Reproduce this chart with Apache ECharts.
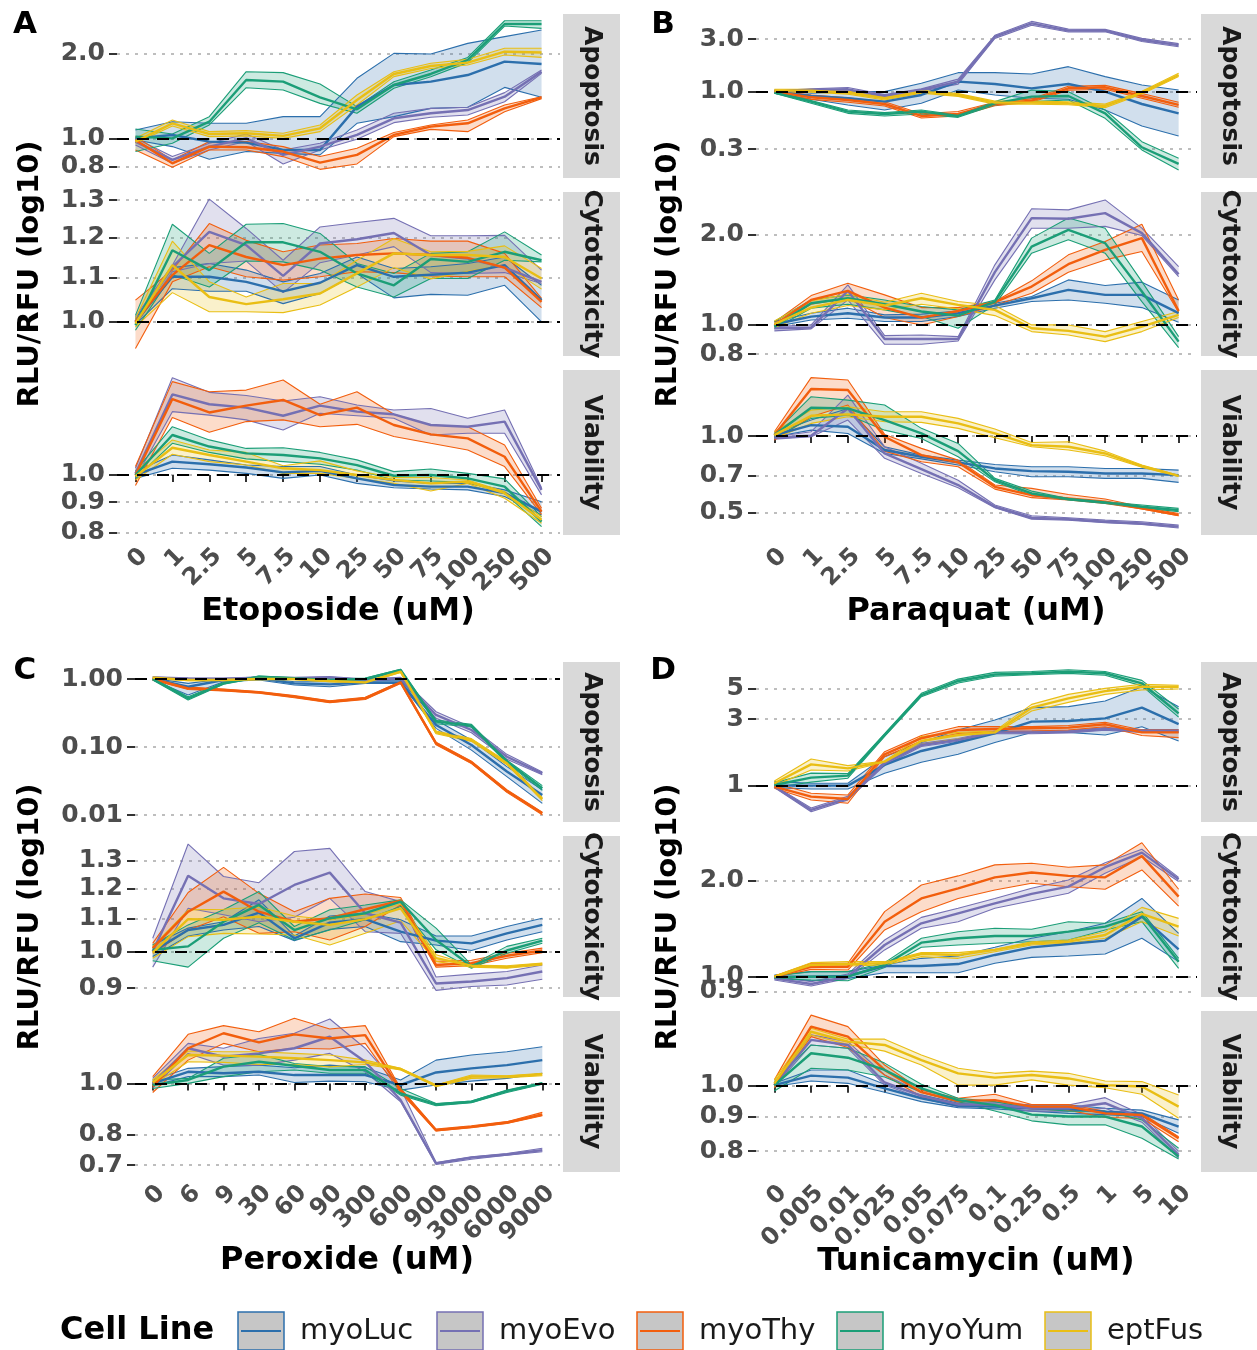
<!DOCTYPE html>
<html><head><meta charset="utf-8">
<script src="https://cdn.jsdelivr.net/npm/echarts@6/dist/echarts.min.js"></script>
<style>html,body{margin:0;padding:0;background:#fff}#c{width:1257px;height:1350px}</style>
</head><body><div id="c"></div>
<script>
// ---------- categories / labels ----------
const cellLines = ['myoLuc', 'myoEvo', 'myoThy', 'myoYum', 'eptFus'];
const lineColors = ['#2C6FAC', '#7570B3', '#F25E0D', '#1B9E77', '#E9BE14'];
const assays = ['Apoptosis', 'Cytotoxicity', 'Viability'];
const xEtoposide = ['0', '1', '2.5', '5', '7.5', '10', '25', '50', '75', '100', '250', '500'];
const xParaquat = ['0', '1', '2.5', '5', '7.5', '10', '25', '50', '75', '100', '250', '500'];
const xPeroxide = ['0', '6', '9', '30', '60', '90', '300', '600', '900', '3000', '6000', '9000'];
const xTunicamycin = ['0', '0.005', '0.01', '0.025', '0.05', '0.075', '0.1', '0.25', '0.5', '1', '5', '10'];

const yTicksA_apo = ['0.8', '1.0', '2.0'];
const yTicksA_cyto = ['1.0', '1.1', '1.2', '1.3'];
const yTicksA_via = ['0.8', '0.9', '1.0'];
const yTicksB_apo = ['0.3', '1.0', '3.0'];
const yTicksB_cyto = ['0.8', '1.0', '2.0'];
const yTicksB_via = ['0.5', '0.7', '1.0'];
const yTicksC_apo = ['0.01', '0.10', '1.00'];
const yTicksC_cyto = ['0.9', '1.0', '1.1', '1.2', '1.3'];
const yTicksC_via = ['0.7', '0.8', '1.0'];
const yTicksD_apo = ['1', '3', '5'];
const yTicksD_cyto = ['0.9', '1.0', '2.0'];
const yTicksD_via = ['0.8', '0.9', '1.0'];

// ---------- data (RLU/RFU ratio: mean, ribbon low, ribbon high) ----------
// A: Etoposide
const A_apo_myoLuc = { mean: [1.005,1.033,0.979,0.971,0.915,0.915,1.299,1.548,1.590,1.678,1.870,1.835], lo: [0.992,0.940,0.848,0.903,0.890,0.879,1.135,1.198,1.281,1.292,1.518,1.401], hi: [1.075,1.150,1.135,1.135,1.198,1.198,1.634,2.0,1.99,2.168,2.29,2.415] };
const A_apo_myoEvo = { mean: [0.979,0.844,0.940,1.005,0.879,0.940,1.033,1.182,1.231,1.264,1.408,1.724], lo: [0.953,0.821,0.915,0.979,0.817,0.915,0.997,1.141,1.192,1.214,1.352,1.701], hi: [1.005,0.867,0.966,1.041,0.915,0.966,1.075,1.231,1.281,1.292,1.455,1.748] };
const A_apo_myoThy = { mean: [0.992,0.821,0.940,0.935,0.903,0.826,0.879,1.033,1.105,1.135,1.281,1.401], lo: [0.915,0.795,0.915,0.915,0.867,0.782,0.817,1.019,1.081,1.061,1.247,1.386], hi: [1.019,0.844,0.979,0.979,0.940,0.867,0.927,1.053,1.120,1.166,1.316,1.408] };
const A_apo_myoYum = { mean: [1.019,1.005,1.150,1.612,1.590,1.401,1.271,1.548,1.692,1.895,2.536,2.536], lo: [0.903,0.966,1.120,1.514,1.486,1.334,1.231,1.507,1.656,1.855,2.495,2.448], hi: [1.084,1.041,1.198,1.724,1.711,1.561,1.299,1.590,1.748,1.935,2.604,2.604] };
const A_apo_eptFus = { mean: [0.979,1.135,1.041,1.047,1.025,1.090,1.371,1.692,1.805,1.855,2.027,2.013], lo: [0.966,1.111,1.019,1.025,1.005,1.061,1.316,1.656,1.770,1.820,1.973,1.935], hi: [1.005,1.166,1.061,1.070,1.047,1.120,1.427,1.724,1.845,1.905,2.083,2.083] };

const A_cyto_myoLuc = { mean: [1.0,1.102,1.102,1.090,1.068,1.088,1.130,1.102,1.107,1.112,1.130,1.048], lo: [0.994,1.074,1.068,1.068,1.040,1.063,1.110,1.053,1.061,1.059,1.082,1.0], hi: [1.007,1.124,1.134,1.118,1.090,1.110,1.150,1.122,1.126,1.134,1.150,1.082] };
const A_cyto_myoEvo = { mean: [1.0,1.126,1.214,1.180,1.104,1.184,1.195,1.211,1.155,1.146,1.124,1.090], lo: [0.993,1.114,1.134,1.140,1.065,1.136,1.155,1.176,1.112,1.110,1.112,1.086], hi: [1.011,1.130,1.303,1.223,1.142,1.227,1.239,1.250,1.204,1.204,1.205,1.118] };
const A_cyto_myoThy = { mean: [1.0,1.106,1.180,1.150,1.130,1.146,1.155,1.159,1.155,1.148,1.124,1.044], lo: [0.944,1.090,1.126,1.102,1.094,1.102,1.114,1.112,1.104,1.102,1.102,1.031], hi: [1.048,1.118,1.236,1.192,1.163,1.180,1.184,1.197,1.190,1.190,1.159,1.052] };
const A_cyto_myoYum = { mean: [0.993,1.167,1.118,1.187,1.187,1.163,1.110,1.082,1.145,1.138,1.163,1.142], lo: [0.982,1.107,1.078,1.140,1.138,1.118,1.078,1.055,1.098,1.098,1.142,1.138], hi: [1.014,1.234,1.159,1.234,1.236,1.210,1.134,1.110,1.159,1.163,1.214,1.155] };
const A_cyto_eptFus = { mean: [0.996,1.130,1.055,1.039,1.050,1.063,1.110,1.159,1.155,1.155,1.150,1.098], lo: [0.989,1.065,1.022,1.022,1.020,1.037,1.078,1.124,1.097,1.115,1.130,1.073], hi: [1.007,1.190,1.090,1.055,1.086,1.086,1.142,1.197,1.163,1.164,1.178,1.122] };

const A_via_myoLuc = { mean: [1.0,1.053,1.042,1.029,1.010,1.016,0.987,0.962,0.956,0.956,0.932,0.868], lo: [0.987,1.026,1.019,1.006,0.987,1.0,0.968,0.952,0.947,0.944,0.920,0.857], hi: [1.013,1.080,1.060,1.039,1.033,1.033,1.0,0.977,0.968,0.968,0.944,0.902] };
const A_via_myoEvo = { mean: [1.006,1.365,1.314,1.297,1.257,1.307,1.277,1.264,1.213,1.205,1.229,0.944], lo: [0.987,1.277,1.260,1.237,1.190,1.269,1.257,1.245,1.167,1.175,1.175,0.926], hi: [1.026,1.456,1.376,1.359,1.331,1.353,1.310,1.285,1.293,1.245,1.285,0.952] };
const A_via_myoThy = { mean: [1.0,1.341,1.273,1.307,1.336,1.260,1.297,1.213,1.170,1.152,1.073,0.868], lo: [0.960,1.248,1.179,1.229,1.237,1.205,1.216,1.160,1.130,1.101,1.033,0.859], hi: [1.033,1.434,1.379,1.388,1.443,1.314,1.379,1.264,1.213,1.205,1.123,0.879] };
const A_via_myoYum = { mean: [1.0,1.167,1.116,1.087,1.080,1.066,1.039,0.997,1.0,0.987,0.956,0.835], lo: [0.987,1.130,1.091,1.064,1.053,1.042,1.019,0.981,0.977,0.972,0.932,0.819], hi: [1.016,1.205,1.145,1.108,1.111,1.091,1.060,1.013,1.023,1.006,0.985,0.851] };
const A_via_eptFus = { mean: [0.994,1.111,1.080,1.053,1.026,1.019,1.0,0.981,0.968,0.975,0.932,0.841], lo: [0.981,1.083,1.053,1.039,1.006,1.006,0.987,0.968,0.940,0.968,0.914,0.830], hi: [1.013,1.145,1.101,1.091,1.036,1.056,1.016,0.990,0.990,0.981,0.938,0.851] };

// B: Paraquat
const B_apo_myoLuc = { mean: [1.0,0.913,0.870,0.811,0.933,1.233,1.174,1.072,1.174,1.0,0.772,0.635], lo: [0.966,0.852,0.757,0.681,0.783,1.035,0.933,0.870,0.852,0.681,0.487,0.395], hi: [1.035,0.966,1.0,1.0,1.191,1.488,1.488,1.447,1.687,1.369,1.150,1.035] };
const B_apo_myoEvo = { mean: [1.0,1.035,1.050,0.913,1.035,1.233,3.16,4.18,3.59,3.59,2.95,2.65], lo: [0.98,1.01,1.01,0.89,1.01,1.17,3.05,4.02,3.48,3.50,2.86,2.56], hi: [1.02,1.06,1.09,0.94,1.06,1.30,3.25,4.35,3.70,3.68,3.05,2.73] };
const B_apo_myoThy = { mean: [1.0,0.888,0.840,0.772,0.601,0.627,0.772,0.828,1.072,1.095,0.913,0.757], lo: [0.97,0.85,0.80,0.74,0.575,0.60,0.745,0.80,1.03,1.05,0.87,0.72], hi: [1.03,0.93,0.88,0.81,0.63,0.66,0.80,0.86,1.12,1.14,0.96,0.80] };
const B_apo_myoYum = { mean: [0.979,0.811,0.658,0.627,0.658,0.601,0.783,0.901,0.913,0.635,0.312,0.220], lo: [0.966,0.783,0.635,0.601,0.627,0.584,0.757,0.811,0.840,0.572,0.295,0.194], hi: [1.0,0.828,0.681,0.644,0.681,0.614,0.811,1.035,1.0,0.681,0.351,0.248] };
const B_apo_eptFus = { mean: [1.021,1.021,0.979,0.870,1.0,0.933,0.794,0.794,0.783,0.741,0.979,1.417], lo: [0.99,0.99,0.95,0.84,0.97,0.905,0.77,0.77,0.76,0.715,0.95,1.37], hi: [1.05,1.05,1.01,0.90,1.03,0.96,0.82,0.82,0.81,0.77,1.01,1.47] };

const B_cyto_myoLuc = { mean: [1.005,1.066,1.094,1.058,1.058,1.094,1.160,1.227,1.308,1.259,1.259,1.094], lo: [0.987,1.039,1.052,1.026,1.026,1.066,1.137,1.196,1.211,1.181,1.142,1.021], hi: [1.026,1.094,1.137,1.080,1.086,1.113,1.181,1.243,1.412,1.352,1.388,1.211] };
const B_cyto_myoEvo = { mean: [0.975,0.980,1.298,0.898,0.898,0.898,1.498,2.268,2.256,2.356,2.021,1.475], lo: [0.955,0.970,1.211,0.862,0.862,0.884,1.412,2.099,2.099,2.128,1.984,1.449], hi: [0.987,1.0,1.359,0.921,0.926,0.914,1.585,2.436,2.415,2.607,2.099,1.564] };
const B_cyto_myoThy = { mean: [1.0,1.211,1.298,1.142,1.058,1.113,1.190,1.342,1.593,1.778,1.945,1.113], lo: [0.987,1.172,1.227,1.058,1.0,1.066,1.160,1.275,1.498,1.646,1.756,1.102], hi: [1.021,1.252,1.377,1.259,1.142,1.142,1.196,1.402,1.711,1.896,2.165,1.211] };
const B_cyto_myoYum = { mean: [0.987,1.181,1.227,1.172,1.108,1.074,1.196,1.823,2.073,1.872,1.292,0.880], lo: [0.970,1.137,1.172,1.122,1.066,0.975,1.166,1.733,1.921,1.733,1.196,0.840], hi: [1.026,1.211,1.259,1.211,1.151,1.122,1.211,1.945,2.268,2.099,1.394,0.914] };
const B_cyto_eptFus = { mean: [1.005,1.142,1.211,1.160,1.227,1.166,1.122,0.975,0.955,0.914,0.987,1.080], lo: [0.980,1.094,1.160,1.122,1.172,1.131,1.074,0.950,0.926,0.880,0.950,1.058], hi: [1.031,1.202,1.265,1.190,1.275,1.196,1.160,1.0,1.0,0.950,1.026,1.108] };

const B_via_myoLuc = { mean: [1.009,1.104,1.088,0.882,0.830,0.789,0.747,0.729,0.725,0.714,0.714,0.703], lo: [0.994,1.055,1.024,0.855,0.814,0.770,0.725,0.693,0.693,0.683,0.683,0.659], hi: [1.024,1.155,1.283,0.908,0.842,0.805,0.774,0.758,0.758,0.747,0.747,0.736] };
const B_via_myoEvo = { mean: [0.985,1.003,1.283,0.855,0.743,0.643,0.529,0.479,0.473,0.462,0.455,0.442], lo: [0.973,0.994,1.155,0.818,0.714,0.628,0.524,0.473,0.469,0.458,0.451,0.437], hi: [0.994,1.040,1.447,0.908,0.782,0.672,0.537,0.488,0.479,0.469,0.462,0.448] };
const B_via_myoThy = { mean: [1.009,1.528,1.514,0.994,0.842,0.789,0.633,0.587,0.570,0.553,0.521,0.491], lo: [0.964,1.190,1.323,0.873,0.793,0.758,0.620,0.574,0.562,0.545,0.518,0.488], hi: [1.040,1.693,1.657,1.015,0.895,0.805,0.643,0.624,0.591,0.567,0.529,0.498] };
const B_via_myoYum = { mean: [1.009,1.291,1.283,1.155,1.024,0.873,0.672,0.596,0.567,0.550,0.529,0.513], lo: [0.985,1.173,1.208,1.055,0.979,0.830,0.662,0.587,0.562,0.545,0.524,0.506], hi: [1.024,1.426,1.383,1.323,1.072,0.936,0.683,0.609,0.570,0.553,0.537,0.521] };
const B_via_eptFus = { mean: [1.009,1.201,1.216,1.190,1.190,1.121,1.024,0.922,0.908,0.855,0.763,0.699], lo: [0.979,1.121,1.190,1.138,1.131,1.072,0.985,0.908,0.882,0.838,0.756,0.695], hi: [1.040,1.264,1.303,1.245,1.245,1.173,1.065,0.944,0.950,0.873,0.770,0.703] };

// C: Peroxide
const C_apo_myoLuc = { mean: [1.0,0.771,0.967,1.023,0.863,0.835,0.893,0.893,0.211,0.107,0.0436,0.0197], lo: [0.967,0.582,0.914,0.967,0.816,0.771,0.863,0.863,0.188,0.090,0.0367,0.0148], hi: [1.023,0.863,1.0,1.046,0.914,0.914,0.935,0.967,0.250,0.127,0.0515,0.0234] };
const C_apo_myoEvo = { mean: [1.046,1.0,1.0,1.046,1.023,1.046,0.967,1.023,0.296,0.178,0.072,0.041], lo: [1.01,0.96,0.97,1.02,0.99,1.0,0.94,0.99,0.265,0.162,0.066,0.039], hi: [1.08,1.04,1.03,1.07,1.06,1.09,1.0,1.06,0.33,0.195,0.078,0.043] };
const C_apo_myoThy = { mean: [1.0,0.729,0.689,0.636,0.550,0.464,0.520,0.893,0.113,0.0595,0.0225,0.0106], lo: [0.97,0.70,0.67,0.62,0.53,0.45,0.50,0.86,0.108,0.057,0.0215,0.0101], hi: [1.03,0.76,0.71,0.655,0.57,0.48,0.54,0.92,0.118,0.062,0.0235,0.011] };
const C_apo_myoYum = { mean: [1.0,0.520,0.863,1.082,1.023,0.967,1.0,1.356,0.236,0.206,0.0609,0.0248], lo: [0.97,0.49,0.84,1.05,0.99,0.94,0.97,1.32,0.22,0.197,0.058,0.023], hi: [1.03,0.55,0.89,1.11,1.05,0.99,1.03,1.39,0.25,0.215,0.064,0.027] };
const C_apo_eptFus = { mean: [1.046,0.967,0.967,1.0,1.0,0.935,0.893,1.282,0.164,0.127,0.0577,0.0172], lo: [1.02,0.945,0.945,0.98,0.98,0.91,0.875,1.25,0.157,0.121,0.055,0.0163], hi: [1.07,0.99,0.99,1.02,1.02,0.96,0.91,1.31,0.172,0.133,0.061,0.018] };

const C_cyto_myoLuc = { mean: [1.0,1.064,1.080,1.119,1.039,1.087,1.098,1.059,1.032,1.024,1.054,1.080], lo: [0.986,1.046,1.064,1.075,1.032,1.066,1.075,1.029,1.019,1.003,1.034,1.059], hi: [1.019,1.070,1.090,1.161,1.046,1.108,1.117,1.096,1.046,1.046,1.075,1.101] };
const C_cyto_myoEvo = { mean: [1.0,1.245,1.166,1.147,1.212,1.256,1.117,1.087,0.912,0.917,0.926,0.944], lo: [0.956,1.133,1.112,1.090,1.104,1.166,1.059,1.054,0.894,0.904,0.908,0.923], hi: [1.039,1.364,1.242,1.220,1.335,1.347,1.189,1.155,0.929,0.937,0.944,0.962] };
const C_cyto_myoThy = { mean: [1.010,1.122,1.189,1.122,1.090,1.101,1.130,1.158,0.962,0.967,0.988,1.003], lo: [0.995,1.064,1.106,1.054,1.059,1.034,1.075,1.144,0.956,0.960,0.981,0.997], hi: [1.024,1.186,1.275,1.183,1.122,1.166,1.181,1.169,0.972,0.975,0.995,1.010] };
const C_cyto_myoYum = { mean: [1.005,1.015,1.090,1.144,1.064,1.101,1.117,1.155,1.034,0.958,1.003,1.032], lo: [0.974,0.956,1.039,1.087,1.034,1.064,1.096,1.139,1.005,0.953,0.995,1.024], hi: [1.019,1.080,1.128,1.189,1.075,1.128,1.144,1.161,1.070,0.962,1.015,1.039] };
const C_cyto_eptFus = { mean: [0.997,1.098,1.096,1.106,1.090,1.080,1.098,1.133,0.981,0.960,0.956,0.965], lo: [0.981,1.044,1.054,1.052,1.049,1.019,1.054,1.093,0.972,0.956,0.953,0.962], hi: [1.015,1.128,1.130,1.137,1.108,1.096,1.112,1.148,0.991,0.962,0.960,0.967] };

const C_via_myoLuc = { mean: [1.0,1.052,1.045,1.052,1.037,1.037,1.037,0.993,1.049,1.068,1.083,1.107], lo: [0.990,1.030,1.030,1.037,1.004,1.010,1.007,0.971,0.993,1.010,1.022,1.045], hi: [1.015,1.068,1.076,1.083,1.071,1.083,1.071,1.015,1.107,1.132,1.148,1.174] };
const C_via_myoEvo = { mean: [1.0,1.166,1.124,1.140,1.166,1.226,1.099,0.930,0.705,0.723,0.733,0.747], lo: [0.981,1.140,1.083,1.083,1.107,1.140,1.052,0.923,0.702,0.718,0.731,0.742], hi: [1.022,1.191,1.166,1.217,1.245,1.325,1.166,0.978,0.708,0.726,0.736,0.753] };
const C_via_myoThy = { mean: [0.986,1.166,1.245,1.196,1.239,1.217,1.235,0.971,0.815,0.827,0.843,0.873], lo: [0.961,1.107,1.191,1.148,1.166,1.162,1.191,0.961,0.812,0.824,0.839,0.868], hi: [1.030,1.239,1.287,1.253,1.329,1.268,1.287,0.978,0.819,0.831,0.846,0.881] };
const C_via_myoYum = { mean: [0.993,1.015,1.076,1.099,1.080,1.060,1.060,0.957,0.912,0.923,0.967,1.0], lo: [0.978,1.0,1.030,1.052,1.060,1.045,1.045,0.950,0.907,0.919,0.961,0.996], hi: [1.015,1.022,1.116,1.135,1.091,1.076,1.076,0.978,0.916,0.926,0.971,1.004] };
const C_via_eptFus = { mean: [1.004,1.132,1.129,1.124,1.116,1.107,1.096,1.065,0.990,1.030,1.030,1.040], lo: [0.993,1.099,1.096,1.086,1.086,1.075,1.086,1.060,0.986,1.022,1.025,1.034], hi: [1.015,1.152,1.148,1.148,1.140,1.132,1.107,1.068,0.993,1.037,1.034,1.045] };

// D: Tunicamycin
const D_apo_myoLuc = { mean: [1.0,1.0,1.0,1.407,1.773,2.04,2.37,2.88,2.91,3.04,3.63,2.76], lo: [0.967,0.946,0.946,1.226,1.470,1.679,2.04,2.41,2.41,2.31,2.65,2.09], hi: [1.068,1.039,1.039,1.615,2.04,2.51,2.96,3.63,3.69,4.05,5.13,3.69] };
const D_apo_myoEvo = { mean: [0.984,0.669,0.811,1.446,1.958,2.13,2.41,2.41,2.44,2.55,2.47,2.47], lo: [0.97,0.65,0.79,1.40,1.91,2.08,2.36,2.36,2.39,2.50,2.41,2.41], hi: [1.0,0.69,0.84,1.49,2.01,2.18,2.47,2.46,2.49,2.61,2.53,2.53] };
const D_apo_myoThy = { mean: [0.984,0.834,0.802,1.678,2.19,2.51,2.55,2.58,2.61,2.76,2.41,2.41], lo: [0.957,0.789,0.747,1.615,2.09,2.37,2.44,2.47,2.51,2.65,2.29,2.21], hi: [1.039,0.881,0.857,1.753,2.29,2.65,2.65,2.65,2.70,2.85,2.51,2.51] };
const D_apo_myoYum = { mean: [1.011,1.141,1.180,2.31,4.47,5.64,6.28,6.41,6.58,6.41,5.43,3.30], lo: [0.97,1.06,1.13,2.26,4.35,5.45,6.1,6.25,6.4,6.2,5.2,3.1], hi: [1.05,1.23,1.22,2.36,4.6,5.82,6.5,6.6,6.8,6.6,5.7,3.55] };
const D_apo_eptFus = { mean: [1.039,1.422,1.331,1.487,2.09,2.31,2.41,3.63,4.23,4.77,5.13,5.13], lo: [1.0,1.296,1.274,1.470,1.98,2.16,2.36,3.43,3.96,4.52,4.86,4.94], hi: [1.080,1.553,1.392,1.503,2.25,2.41,2.47,3.83,4.52,4.99,5.34,5.26] };

const D_cyto_myoLuc = { mean: [1.0,1.0,1.005,1.080,1.080,1.095,1.169,1.235,1.265,1.296,1.540,1.217], lo: [0.988,0.971,0.988,1.029,1.029,1.029,1.101,1.149,1.160,1.177,1.318,1.114], hi: [1.012,1.037,1.037,1.088,1.141,1.160,1.235,1.318,1.382,1.468,1.755,1.366] };
const D_cyto_myoEvo = { mean: [0.988,0.949,1.0,1.256,1.468,1.577,1.695,1.813,1.911,2.197,2.44,2.014], lo: [0.976,0.935,0.988,1.212,1.416,1.485,1.635,1.727,1.822,2.104,2.37,1.982], hi: [1.005,0.965,1.019,1.302,1.532,1.635,1.755,1.888,2.004,2.27,2.50,2.043] };
const D_cyto_myoThy = { mean: [1.0,1.074,1.074,1.485,1.755,1.888,2.043,2.115,2.064,2.043,2.38,1.778], lo: [0.995,1.054,1.049,1.399,1.596,1.755,1.866,1.957,1.910,1.875,2.154,1.662], hi: [1.005,1.101,1.101,1.596,1.934,2.064,2.234,2.26,2.197,2.234,2.62,1.875] };
const D_cyto_myoYum = { mean: [0.995,1.0,1.0,1.088,1.277,1.318,1.340,1.340,1.382,1.433,1.559,1.114], lo: [0.988,0.976,0.971,1.069,1.235,1.256,1.271,1.286,1.302,1.399,1.485,1.062], hi: [1.005,1.037,1.037,1.106,1.318,1.382,1.416,1.406,1.485,1.468,1.596,1.141] };
const D_cyto_eptFus = { mean: [1.0,1.088,1.095,1.101,1.177,1.169,1.212,1.271,1.286,1.349,1.570,1.433], lo: [0.995,1.074,1.080,1.088,1.155,1.141,1.197,1.256,1.271,1.318,1.485,1.340], hi: [1.005,1.106,1.114,1.114,1.189,1.189,1.217,1.286,1.302,1.382,1.646,1.521] };

const D_via_myoLuc = { mean: [1.002,1.035,1.028,0.991,0.958,0.934,0.931,0.926,0.924,0.915,0.910,0.870], lo: [0.997,1.016,1.008,0.978,0.947,0.928,0.924,0.917,0.910,0.906,0.900,0.850], hi: [1.008,1.055,1.055,1.005,0.969,0.942,0.936,0.936,0.936,0.926,0.920,0.890] };
const D_via_myoEvo = { mean: [1.002,1.169,1.149,1.011,0.966,0.938,0.938,0.926,0.926,0.942,0.895,0.790], lo: [0.997,1.149,1.136,1.002,0.958,0.931,0.931,0.917,0.917,0.926,0.883,0.782], hi: [1.008,1.189,1.162,1.037,0.978,0.945,0.945,0.936,0.936,0.960,0.906,0.799] };
const D_via_myoThy = { mean: [1.002,1.223,1.182,1.055,0.978,0.949,0.952,0.931,0.931,0.910,0.905,0.836], lo: [0.993,1.182,1.139,1.037,0.963,0.938,0.934,0.924,0.920,0.897,0.895,0.826], hi: [1.020,1.272,1.223,1.073,0.985,0.958,0.971,0.938,0.938,0.916,0.910,0.840] };
const D_via_myoYum = { mean: [1.002,1.117,1.100,1.055,0.991,0.952,0.936,0.906,0.900,0.900,0.870,0.785], lo: [0.982,1.061,1.055,1.030,0.978,0.947,0.917,0.887,0.875,0.875,0.836,0.779], hi: [1.014,1.149,1.136,1.080,1.005,0.958,0.947,0.926,0.917,0.917,0.890,0.808] };
const D_via_eptFus = { mean: [1.008,1.202,1.162,1.149,1.091,1.043,1.028,1.037,1.025,1.002,0.997,0.931], lo: [0.997,1.189,1.151,1.125,1.073,1.002,1.002,1.020,1.002,0.993,0.971,0.895], hi: [1.020,1.216,1.172,1.172,1.110,1.061,1.043,1.051,1.043,1.016,1.014,0.969] };

// ---------- layout ----------
const FONT = "'DejaVu Sans', 'Liberation Sans', sans-serif";
const panels = [
  { letter: 'A', letterPos: [25, 25], x: xEtoposide, title: 'Etoposide (uM)', titlePos: [338, 612], yTitlePos: [30, 274],
    left: 117, width: 443, tops: [14, 192, 370], heights: [164, 164, 165], stripX: 563, stripW: 57,
    ranges: [[0.729, 2.75], [0.929, 1.323], [0.793, 1.50]], ticks: [yTicksA_apo, yTicksA_cyto, yTicksA_via],
    data: [[A_apo_myoLuc, A_apo_myoEvo, A_apo_myoThy, A_apo_myoYum, A_apo_eptFus],
           [A_cyto_myoLuc, A_cyto_myoEvo, A_cyto_myoThy, A_cyto_myoYum, A_cyto_eptFus],
           [A_via_myoLuc, A_via_myoEvo, A_via_myoThy, A_via_myoYum, A_via_eptFus]] },
  { letter: 'B', letterPos: [663, 25], x: xParaquat, title: 'Paraquat (uM)', titlePos: [976, 612], yTitlePos: [668, 274],
    left: 756, width: 441, tops: [14, 192, 370], heights: [164, 164, 165], stripX: 1201, stripW: 56,
    ranges: [[0.164, 5.08], [0.788, 2.77], [0.410, 1.814]], ticks: [yTicksB_apo, yTicksB_cyto, yTicksB_via],
    data: [[B_apo_myoLuc, B_apo_myoEvo, B_apo_myoThy, B_apo_myoYum, B_apo_eptFus],
           [B_cyto_myoLuc, B_cyto_myoEvo, B_cyto_myoThy, B_cyto_myoYum, B_cyto_eptFus],
           [B_via_myoLuc, B_via_myoEvo, B_via_myoThy, B_via_myoYum, B_via_eptFus]] },
  { letter: 'C', letterPos: [25, 671], x: xPeroxide, title: 'Peroxide (uM)', titlePos: [347, 1261], yTitlePos: [30, 917],
    left: 135, width: 425, tops: [662, 836, 1011], heights: [160, 161, 161], stripX: 563, stripW: 57,
    ranges: [[0.00789, 1.78], [0.877, 1.396], [0.679, 1.372]], ticks: [yTicksC_apo, yTicksC_cyto, yTicksC_via],
    data: [[C_apo_myoLuc, C_apo_myoEvo, C_apo_myoThy, C_apo_myoYum, C_apo_eptFus],
           [C_cyto_myoLuc, C_cyto_myoEvo, C_cyto_myoThy, C_cyto_myoYum, C_cyto_eptFus],
           [C_via_myoLuc, C_via_myoEvo, C_via_myoThy, C_via_myoYum, C_via_eptFus]] },
  { letter: 'D', letterPos: [663, 671], x: xTunicamycin, title: 'Tunicamycin (uM)', titlePos: [976, 1262], yTitlePos: [668, 917],
    left: 756, width: 441, tops: [662, 836, 1011], heights: [160, 161, 161], stripX: 1201, stripW: 56,
    ranges: [[0.548, 7.72], [0.864, 2.75], [0.745, 1.290]], ticks: [yTicksD_apo, yTicksD_cyto, yTicksD_via],
    data: [[D_apo_myoLuc, D_apo_myoEvo, D_apo_myoThy, D_apo_myoYum, D_apo_eptFus],
           [D_cyto_myoLuc, D_cyto_myoEvo, D_cyto_myoThy, D_cyto_myoYum, D_cyto_eptFus],
           [D_via_myoLuc, D_via_myoEvo, D_via_myoThy, D_via_myoYum, D_via_eptFus]] }
];

const grids = [], xAxes = [], yAxes = [], series = [], graphics = [];
const lg = v => Math.log10(v);
const labelStyle = { color: '#4D4D4D', fontFamily: FONT, fontWeight: 'bold', fontSize: 25 };

panels.forEach(p => {
  p.data.forEach((facet, fi) => {
    const g = grids.length;
    const isBottom = fi === 2;
    grids.push({ left: p.left, top: p.tops[fi], width: p.width, height: p.heights[fi], containLabel: false });
    xAxes.push({
      type: 'category', gridIndex: g, data: p.x, boundaryGap: true,
      axisLine: { show: false },
      axisTick: { show: isBottom, alignWithLabel: true, length: 7, lineStyle: { color: '#333333', width: 2 } },
      axisLabel: { show: isBottom, interval: 0, rotate: 45, margin: 9, color: '#4D4D4D', verticalAlign: 'top',
                   fontFamily: FONT, fontWeight: 'bold', fontSize: 24, hideOverlap: false },
      splitLine: { show: false }
    });
    const tickStr = p.ticks[fi];
    const tickVals = tickStr.map(t => lg(parseFloat(t)));
    const nameOf = v => { let best = '', bd = 1e9; tickStr.forEach((t, i) => { const d = Math.abs(tickVals[i] - v); if (d < bd) { bd = d; best = t; } }); return best; };
    const ymin = lg(p.ranges[fi][0]), ymax = lg(p.ranges[fi][1]);
    const yi = yAxes.length;
    // main y axis: ticks, grid lines, labels of even-indexed ticks
    yAxes.push({
      type: 'value', gridIndex: g, position: 'left', offset: 0, min: ymin, max: ymax,
      axisLine: { show: false },
      axisTick: { show: true, length: 8, lineStyle: { color: '#333333', width: 2 }, customValues: tickVals },
      axisLabel: Object.assign({ show: true, margin: 12, hideOverlap: false,
        customValues: tickVals.filter((v, i) => i % 2 === 0), formatter: nameOf }, labelStyle),
      splitLine: { show: true, lineStyle: { color: '#BEBEBE', width: 2, type: [3, 6] } }
    });
    // companion y axis carrying the odd-indexed labels (so touching labels are both drawn)
    yAxes.push({
      type: 'value', gridIndex: g, position: 'left', offset: 0, min: ymin, max: ymax,
      axisLine: { show: false }, axisTick: { show: false }, splitLine: { show: false },
      axisLabel: Object.assign({ show: tickVals.length > 1, margin: 12, hideOverlap: false,
        customValues: tickVals.filter((v, i) => i % 2 === 1), formatter: nameOf }, labelStyle)
    });
    // reference line at ratio 1
    series.push({ type: 'line', xAxisIndex: g, yAxisIndex: yi, data: [], silent: true, z: 1,
      markLine: { silent: true, symbol: ['none', 'none'], label: { show: false }, animation: false,
                  lineStyle: { color: '#000000', width: 2, type: [12, 8] }, data: [{ yAxis: 0 }] } });
    // ribbons
    facet.forEach((d, k) => {
      const col = lineColors[k];
      const lo = d.lo.map(lg), hi = d.hi.map(lg);
      const st = 'rib_' + g + '_' + k;
      series.push({ type: 'line', xAxisIndex: g, yAxisIndex: yi, stack: st, stackStrategy: 'all', data: lo,
        symbol: 'none', silent: true, z: 2, lineStyle: { color: col, width: 1.1 } });
      series.push({ type: 'line', xAxisIndex: g, yAxisIndex: yi, stack: st, stackStrategy: 'all',
        data: hi.map((h, i) => h - lo[i]), symbol: 'none', silent: true, z: 2,
        lineStyle: { color: col, width: 1.1 }, areaStyle: { color: col, opacity: 0.22 } });
    });
    // mean lines
    facet.forEach((d, k) => {
      series.push({ type: 'line', name: cellLines[k], xAxisIndex: g, yAxisIndex: yi, data: d.mean.map(lg),
        symbol: 'none', silent: true, z: 3, lineStyle: { color: lineColors[k], width: 2.4 } });
    });
    // strip
    graphics.push({ type: 'rect', shape: { x: p.stripX, y: p.tops[fi], width: p.stripW, height: p.heights[fi] },
      style: { fill: '#D9D9D9' }, silent: true });
    graphics.push({ type: 'text', x: p.stripX + p.stripW / 2, y: p.tops[fi] + p.heights[fi] / 2, rotation: -Math.PI / 2,
      style: { text: assays[fi], fill: '#1A1A1A', font: 'bold 25px ' + FONT, textAlign: 'center', textVerticalAlign: 'middle', align: 'center', verticalAlign: 'middle' } });
  });
  graphics.push({ type: 'text', x: p.letterPos[0], y: p.letterPos[1],
    style: { text: p.letter, fill: '#000000', font: 'bold 31px ' + FONT, textAlign: 'center', textVerticalAlign: 'middle', align: 'center', verticalAlign: 'middle' } });
  graphics.push({ type: 'text', x: p.titlePos[0], y: p.titlePos[1],
    style: { text: p.title, fill: '#000000', font: 'bold 32px ' + FONT, textAlign: 'center', textVerticalAlign: 'middle', align: 'center', verticalAlign: 'middle' } });
  graphics.push({ type: 'text', x: p.yTitlePos[0], y: p.yTitlePos[1], rotation: Math.PI / 2,
    style: { text: 'RLU/RFU (log10)', fill: '#000000', font: 'bold 29px ' + FONT, textAlign: 'center', textVerticalAlign: 'middle', align: 'center', verticalAlign: 'middle' } });
});

// legend
const legendKeyX = [238, 437, 637, 837, 1045];
graphics.push({ type: 'text', x: 60, y: 1331,
  style: { text: 'Cell Line', fill: '#000000', font: 'bold 32px ' + FONT, textAlign: 'left', textVerticalAlign: 'middle', align: 'left', verticalAlign: 'middle' } });
cellLines.forEach((name, k) => {
  const x0 = legendKeyX[k];
  graphics.push({ type: 'rect', shape: { x: x0, y: 1312, width: 46, height: 38 },
    style: { fill: '#C6C6C6', stroke: lineColors[k], lineWidth: 1.5 } });
  graphics.push({ type: 'line', shape: { x1: x0 + 3, y1: 1331, x2: x0 + 43, y2: 1331 },
    style: { stroke: lineColors[k], lineWidth: 2 } });
  graphics.push({ type: 'text', x: x0 + 62, y: 1331,
    style: { text: name, fill: '#1A1A1A', font: '29px ' + FONT, textAlign: 'left', textVerticalAlign: 'middle', align: 'left', verticalAlign: 'middle' } });
});

const chart = echarts.init(document.getElementById('c'), null, { renderer: 'canvas', width: 1257, height: 1350 });
chart.setOption({
  backgroundColor: '#ffffff',
  animation: false,
  grid: grids, xAxis: xAxes, yAxis: yAxes, series: series,
  graphic: { elements: graphics }
});
</script>
</body></html>
